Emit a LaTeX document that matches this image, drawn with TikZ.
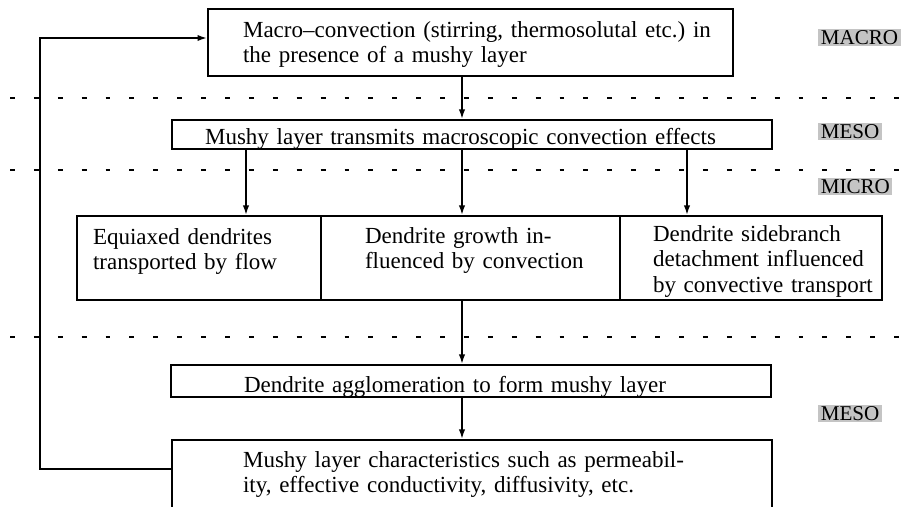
\documentclass[tikz,border=0pt]{standalone}
\usepackage{fontspec}
\setmainfont{Liberation Serif}
\usepackage{tikz}
\usetikzlibrary{arrows.meta,positioning}
\frenchspacing
\newcommand{\boxfont}{\fontsize{13.1}{14.7}\selectfont}
\newcommand{\tagfont}{\fontsize{12}{13}\selectfont}
\tikzstyle{block} =
  [rectangle, draw, line width=1pt, align=left, inner ysep=0pt, font=\boxfont]
\tikzstyle{level} =
  [rectangle, fill=black!23, anchor=west, inner xsep=0.05cm, inner ysep=0.035cm,
   text height=0.27cm, text depth=0cm, font=\tagfont]
\tikzstyle{arrow}=[draw,-{Latex[length=5.5pt,width=3.6pt]},line width=1pt]
\tikzstyle{divider}=[draw,line width=1pt,dash pattern=on 2.8pt off 10.8pt]

\begin{document}
\begin{tikzpicture}[x=0.02cm, y=-0.02cm]
  \useasboundingbox (0,0) rectangle (910,507);
  \clip (0,0) rectangle (910,507);

  \draw [divider] (10,98) -- (910,98);
  \draw [divider] (10,170) -- (910,170);
  \draw [divider] (10,337) -- (910,337);

  \node [block, text width=9.1cm, inner xsep=0.7cm, text height=0.56cm, text depth=0.78cm]
    (a) at (470.5,42.5)
    {\mbox{Macro--convection (stirring, thermosolutal etc.) in}\\the presence of a mushy layer};
  \node [block, text width=10.68cm, inner xsep=0.66cm, text height=0.5cm, text depth=0.08cm]
    (b) at (472,134.5) {Mushy layer transmits macroscopic convection effects};
  \node [block, text width=4.24cm, inner xsep=0.32cm, text height=0.56cm, text depth=1.12cm]
    (c1) at (199,258) {Equiaxed dendrites\\transported by flow};
  \node [block, text width=4.22cm, inner xsep=0.88cm, text height=0.54cm, text depth=1.14cm]
    (c2) at (470.5,258) {Dendrite growth in-\\\mbox{fluenced by convection}};
  \node [block, text width=3.92cm, inner xsep=0.66cm, text height=0.5cm, text depth=1.18cm]
    (c3) at (751,258)
    {Dendrite sidebranch\\\mbox{detachment influenced}\\\mbox{by convective transport}};
  \node [block, text width=9.08cm, inner xsep=1.46cm, text height=0.54cm, text depth=0.1cm]
    (d) at (471,381) {Dendrite agglomeration to form mushy layer};
  \node [block, text width=9.16cm, inner xsep=1.42cm, text height=0.54cm, text depth=1.06cm]
    (e) at (472,480)
    {Mushy layer characteristics such as permeabil-\\ity, effective conductivity, diffusivity, etc.};

  \node [level] (t1) at (818,37.5) {MACRO};
  \node [level] (t2) at (818,131.5) {MESO};
  \node [level] (t3) at (818,186.5) {MICRO};
  \node [level] (t4) at (818,413.5) {MESO};

  \coordinate (l) at (246,0);
  \coordinate (m) at (462,0);
  \coordinate (r) at (687,0);
  \coordinate (f1) at (40,469);
  \coordinate (f2) at (40,38);

  \draw [arrow] (a.south -| m) -- (b.north -| m);
  \draw [arrow] (b.south -| l) -- (c1.north -| l);
  \draw [arrow] (b.south -| m) -- (c2.north -| m);
  \draw [arrow] (b.south -| r) -- (c3.north -| r);
  \draw [arrow] (c2.south -| m) -- (d.north -| m);
  \draw [arrow] (d.south -| m) -- (e.north -| m);
  \draw [arrow] (e.west |- f1) -- (f1) -- (f2) -- (a.west |- f2);
\end{tikzpicture}
\end{document}
